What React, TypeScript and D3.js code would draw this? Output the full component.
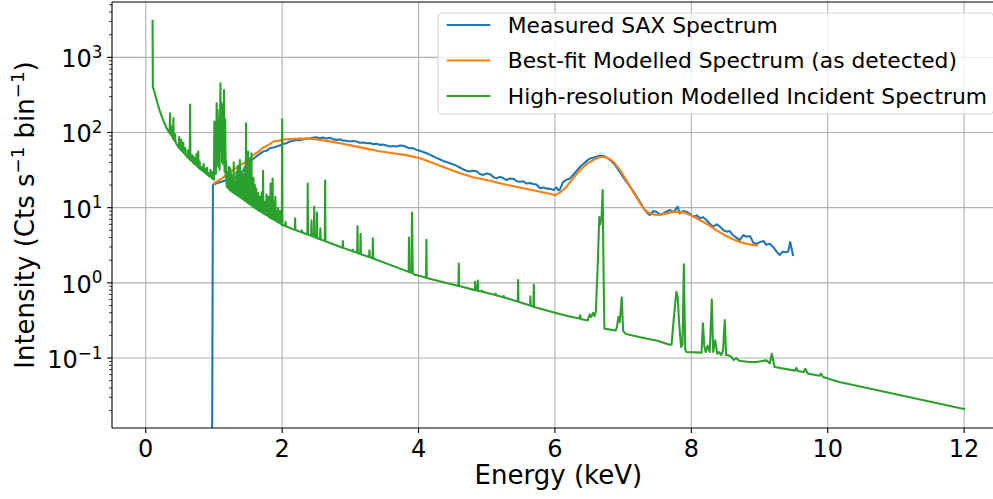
import React from 'react';
import * as d3 from 'd3';

// Measured SAX spectrum: [energy keV, counts s^-1 bin^-1]
const measuredSAX: [number, number][] = [
  [0.97, 0.001], [0.985, 20], [1.03, 21], [1.1, 22], [1.2, 23.5], [1.28, 24.5], [1.355, 25.9], [1.43, 31.6],
  [1.525, 41], [1.62, 48], [1.72, 55.8], [1.77, 57], [1.82, 61.8], [1.87, 63], [1.92, 65], [1.96, 67],
  [2.01, 70.6], [2.06, 72], [2.11, 75.9], [2.16, 77], [2.21, 79.8], [2.26, 79], [2.31, 81.5], [2.36, 83],
  [2.41, 83], [2.45, 85], [2.5, 86.7], [2.55, 84], [2.6, 85.5], [2.65, 83], [2.7, 85], [2.75, 81],
  [2.8, 79.8], [2.85, 81], [2.89, 78], [2.94, 77.5], [2.99, 75.9], [3.04, 77], [3.09, 75.9], [3.14, 73],
  [3.19, 73.6], [3.24, 72], [3.29, 72.5], [3.33, 70], [3.38, 70.6], [3.43, 68.5], [3.48, 69], [3.53, 67],
  [3.58, 65], [3.63, 66], [3.68, 65], [3.73, 67], [3.78, 66.5], [3.82, 64], [3.87, 61.8], [3.92, 62],
  [3.97, 58.7], [4.02, 57], [4.07, 55], [4.12, 53], [4.17, 50.4], [4.22, 48], [4.26, 46], [4.31, 44],
  [4.36, 41.9], [4.41, 40.5], [4.46, 39], [4.51, 37.5], [4.56, 36], [4.61, 34], [4.65, 32.5], [4.7, 31],
  [4.75, 30.2], [4.8, 31], [4.85, 30.5], [4.9, 28], [4.95, 27.3], [5.0, 28.5], [5.05, 27.8], [5.1, 25.5],
  [5.14, 24.5], [5.19, 25.7], [5.24, 24.8], [5.29, 23.3], [5.34, 24.5], [5.39, 24.3], [5.44, 22.5], [5.49, 22.1],
  [5.54, 22.4], [5.58, 21.0], [5.63, 21.3], [5.68, 20.6], [5.73, 20.3], [5.78, 18.1], [5.83, 18.6], [5.88, 17.9],
  [5.93, 17.8], [5.98, 17.2], [6.02, 18.6], [6.05, 17.0], [6.07, 17.2], [6.12, 22.1], [6.17, 23.5], [6.22, 24.5],
  [6.27, 27.5], [6.32, 31], [6.37, 35], [6.44, 40], [6.51, 45.2], [6.56, 46], [6.61, 47.6], [6.66, 49.5],
  [6.71, 48.6], [6.76, 46.5], [6.81, 43], [6.86, 39], [6.9, 35], [6.95, 30], [7.0, 25.7], [7.05, 22],
  [7.1, 19], [7.15, 16.5], [7.2, 14], [7.25, 11.8], [7.3, 9.8], [7.35, 8.6], [7.39, 8.0], [7.44, 9.0],
  [7.49, 8.85], [7.54, 8.0], [7.59, 8.4], [7.64, 8.9], [7.69, 9.3], [7.74, 8.7], [7.78, 9.8], [7.8, 10.3],
  [7.83, 8.4], [7.88, 9.0], [7.93, 8.85], [7.98, 8.2], [8.03, 7.6], [8.08, 7.9], [8.13, 7.2], [8.17, 7.5],
  [8.22, 6.85], [8.27, 6.1], [8.32, 5.6], [8.37, 6.0], [8.42, 5.6], [8.47, 5.0], [8.52, 4.8], [8.56, 4.9],
  [8.61, 4.3], [8.66, 4.0], [8.71, 3.7], [8.76, 4.3], [8.81, 4.1], [8.86, 4.2], [8.91, 3.4], [8.96, 3.3],
  [9.01, 3.5], [9.06, 3.6], [9.1, 3.2], [9.15, 3.3], [9.2, 3.0], [9.25, 2.6], [9.3, 2.35], [9.34, 2.6],
  [9.38, 2.55], [9.42, 2.6], [9.45, 3.5], [9.49, 2.35],
];

// Best-fit modelled spectrum (as detected)
const bestFitModel: [number, number][] = [
  [1.0, 21], [1.1, 24], [1.2, 28], [1.3, 32.5], [1.4, 37.5], [1.477, 41], [1.575, 50], [1.67, 57],
  [1.72, 63], [1.82, 70], [1.87, 75.9], [1.96, 78], [2.06, 81.5], [2.26, 83], [2.45, 82], [2.65, 77.4],
  [2.85, 72], [3.04, 66.4], [3.24, 61], [3.43, 56.3], [3.63, 53], [3.82, 50], [4.02, 45.5], [4.22, 39],
  [4.41, 33.4], [4.61, 28.7], [4.8, 25.4], [5.0, 23.4], [5.19, 21.1], [5.43, 19], [5.68, 17.1], [5.85, 15.8],
  [6.0, 14.7], [6.08, 16], [6.17, 19], [6.27, 25], [6.37, 31.6], [6.47, 38.5], [6.56, 43], [6.64, 46.5],
  [6.71, 47.5], [6.78, 45.5], [6.86, 40.7], [6.95, 32], [7.05, 23], [7.15, 16], [7.25, 11.4], [7.32, 9.3],
  [7.39, 8.4], [7.47, 8.05], [7.54, 8.0], [7.64, 8.4], [7.74, 8.85], [7.84, 8.8], [7.93, 8.4], [8.03, 7.6],
  [8.12, 6.86], [8.25, 5.9], [8.37, 5.0], [8.49, 4.3], [8.61, 3.8], [8.71, 3.5], [8.81, 3.3], [8.9, 3.18],
  [8.96, 3.13],
];

// High-resolution modelled incident spectrum
const highResIncident: [number, number][] = [
  [0.100, 3070], [0.104, 400], [0.12, 365], [0.15, 290], [0.2, 200], [0.25, 150], [0.3, 117],
  [0.35, 98], [0.356, 180], [0.362, 96], [0.375, 92], [0.38, 120], [0.385, 91],
  [0.4, 83], [0.405, 156], [0.41, 81], [0.425, 77], [0.43, 95], [0.435, 76],
  [0.45, 70], [0.485, 63], [0.49, 88], [0.495, 62], [0.5, 61], [0.515, 58.5], [0.52, 80], [0.525, 57.5],
  [0.545, 55], [0.55, 73], [0.555, 54], [0.575, 51], [0.58, 62], [0.585, 50.5],
  [0.6, 48], [0.615, 46.5], [0.62, 58], [0.625, 46], [0.645, 43.5], [0.65, 235], [0.655, 43],
  [0.675, 41.5], [0.68, 50], [0.685, 41], [0.695, 39.5], [0.7, 48], [0.705, 39],
  [0.725, 37.5], [0.73, 46], [0.735, 37], [0.74, 36.5], [0.745, 52], [0.75, 36],
  [0.765, 34.5], [0.77, 56], [0.775, 34], [0.785, 33.5], [0.79, 41], [0.795, 33],
  [0.8, 32.5], [0.82, 31.5], [0.825, 35], [0.83, 31], [0.845, 30.3], [0.85, 38], [0.855, 30],
  [0.87, 29], [0.875, 33], [0.88, 28.5], [0.895, 27.8], [0.9, 34], [0.905, 27.5],
  [0.93, 26.3], [0.935, 29], [0.94, 26], [0.945, 25.8], [0.95, 32], [0.955, 25.6],
  [0.965, 25], [0.97, 30], [0.975, 24.5], [1.0, 23.5], [1.006, 140], [1.012, 30], [1.02, 60], [1.028, 28], [1.04, 245], [1.046, 40],
  [1.055, 200], [1.062, 35], [1.075, 150], [1.082, 32], [1.095, 452], [1.102, 60], [1.11, 250], [1.118, 40], [1.128, 230], [1.135, 38],
  [1.148, 368], [1.155, 30], [1.165, 150], [1.172, 25], [1.18, 40], [1.186, 19],
  [1.195, 30], [1.2, 18.5], [1.21, 26], [1.215, 18], [1.22, 35], [1.225, 17.5],
  [1.235, 17], [1.24, 33.5], [1.245, 17], [1.25, 16.9], [1.255, 28], [1.26, 16.6], [1.265, 16.3], [1.27, 25], [1.275, 16.1],
  [1.285, 15.8], [1.29, 40], [1.295, 15.7], [1.305, 15.4], [1.31, 22], [1.315, 15.2],
  [1.325, 15], [1.33, 30], [1.335, 14.8], [1.345, 14.6], [1.35, 36], [1.355, 14.4], [1.36, 25], [1.365, 14.2],
  [1.375, 13.9], [1.38, 43], [1.385, 13.8], [1.39, 13.7], [1.395, 30], [1.4, 13.5], [1.415, 13.2], [1.42, 28], [1.425, 13],
  [1.435, 12.8], [1.44, 22], [1.445, 12.6], [1.45, 35], [1.455, 12.4],
  [1.465, 12.2], [1.47, 133], [1.475, 12.1], [1.495, 11.6], [1.5, 56], [1.505, 11.5], [1.525, 11.1], [1.53, 45], [1.535, 11],
  [1.545, 10.8], [1.55, 53], [1.555, 10.7], [1.575, 10.3], [1.58, 25], [1.585, 10.2],
  [1.595, 10], [1.6, 20], [1.605, 9.9], [1.615, 9.7], [1.62, 18], [1.625, 9.6],
  [1.645, 9.3], [1.65, 15.6], [1.655, 9.2], [1.675, 9], [1.68, 14], [1.685, 8.9], [1.695, 8.8], [1.7, 16], [1.705, 8.7],
  [1.715, 8.5], [1.72, 31], [1.725, 8.4], [1.745, 8.2], [1.75, 12], [1.755, 8.1], [1.765, 8.0], [1.77, 15], [1.775, 7.9],
  [1.795, 7.7], [1.8, 14], [1.805, 7.6], [1.825, 7.3], [1.83, 21], [1.835, 7.25], [1.855, 7.1], [1.86, 24.5], [1.865, 7.0],
  [1.875, 6.95], [1.88, 12], [1.885, 6.9], [1.895, 6.8], [1.9, 14], [1.905, 6.75],
  [1.915, 6.6], [1.92, 9], [1.925, 6.5], [1.935, 6.45], [1.94, 10], [1.945, 6.4], [1.965, 6.2], [1.97, 9], [1.975, 6.15],
  [1.995, 5.92], [2.0, 150], [2.005, 5.88],
  [2.045, 5.7], [2.05, 6.5], [2.055, 5.67], [2.185, 5.07], [2.19, 7.2], [2.195, 5.05], [2.285, 4.7], [2.29, 5.0], [2.295, 4.68],
  [2.37, 4.4], [2.375, 21], [2.38, 4.4], [2.425, 4.22], [2.43, 6.8], [2.435, 4.2], [2.465, 4.1], [2.47, 10.3], [2.475, 4.07],
  [2.505, 3.95], [2.51, 8.6], [2.515, 3.93], [2.555, 3.8], [2.56, 5.3], [2.565, 3.78], [2.625, 3.6], [2.63, 23], [2.635, 3.58],
  [2.885, 2.93], [2.89, 3.6], [2.895, 2.92], [3.035, 2.63], [3.04, 2.75], [3.045, 2.62], [3.1, 2.52], [3.105, 5.7], [3.11, 2.5],
  [3.145, 2.42], [3.15, 4.5], [3.155, 2.4], [3.275, 2.2], [3.28, 2.7], [3.285, 2.19], [3.325, 2.12], [3.33, 3.9], [3.335, 2.11],
  [3.855, 1.4], [3.86, 4.0], [3.865, 1.39], [3.895, 1.36], [3.905, 8.6], [3.915, 1.34], [3.94, 1.28], [4.0, 1.25],
  [4.11, 1.17], [4.115, 3.75], [4.12, 1.16], [4.585, 0.91], [4.59, 1.8], [4.595, 0.905], [4.825, 0.8], [4.83, 1.03], [4.84, 0.795],
  [4.865, 0.785], [4.87, 1.07], [4.875, 0.78], [4.925, 0.765], [4.93, 0.79], [4.935, 0.76],
  [5.125, 0.69], [5.13, 0.72], [5.135, 0.685], [5.245, 0.645], [5.25, 0.67], [5.255, 0.64], [5.455, 0.565], [5.46, 1.09], [5.465, 0.56],
  [5.635, 0.5], [5.64, 0.66], [5.645, 0.497], [5.685, 0.48], [5.69, 0.95], [5.695, 0.477],
  [6.0, 0.4], [6.2, 0.36], [6.36, 0.335], [6.37, 0.37], [6.38, 0.33], [6.48, 0.315], [6.51, 0.38], [6.53, 0.35], [6.56, 0.4],
  [6.58, 0.36], [6.6, 0.42], [6.63, 2.0], [6.65, 7.5], [6.665, 6.0], [6.685, 7.8], [6.7, 17.2], [6.715, 1.0], [6.725, 0.246],
  [6.89, 0.232], [6.91, 0.26], [6.93, 0.35], [6.95, 0.3], [6.98, 0.64], [7.0, 0.23], [7.03, 0.212], [7.06, 0.207],
  [7.3, 0.185], [7.5, 0.17], [7.66, 0.152], [7.71, 0.15], [7.74, 0.32], [7.78, 0.76], [7.8, 0.65], [7.82, 0.3], [7.85, 0.14],
  [7.87, 0.15], [7.89, 1.77], [7.91, 0.129], [7.93, 0.12], [8.15, 0.118], [8.17, 0.29], [8.19, 0.146], [8.21, 0.12],
  [8.24, 0.146], [8.27, 0.12], [8.3, 0.605], [8.32, 0.12], [8.35, 0.172], [8.38, 0.114], [8.41, 0.12], [8.44, 0.109],
  [8.465, 0.127], [8.49, 0.32], [8.51, 0.109], [8.54, 0.109], [8.59, 0.103], [8.62, 0.094], [8.66, 0.1], [8.7, 0.092],
  [8.85, 0.0885], [8.95, 0.0885], [9.1, 0.093], [9.15, 0.085], [9.18, 0.114], [9.22, 0.076], [9.52, 0.068], [9.54, 0.074],
  [9.56, 0.067], [9.65, 0.065], [9.67, 0.072], [9.71, 0.062], [9.88, 0.058], [9.9, 0.062], [9.93, 0.056], [10.17, 0.048],
  [12.0, 0.021],
];

const xTicks = [0, 2, 4, 6, 8, 10, 12];
const yTickExponents = [-1, 0, 1, 2, 3];
const legendLabels = [
  'Measured SAX Spectrum',
  'Best-fit Modelled Spectrum (as detected)',
  'High-resolution Modelled Incident Spectrum',
];
const seriesColors = ['#1f77b4', '#ff7f0e', '#2ca02c'];

const FONT = 'DejaVu Sans, Verdana, sans-serif';

export default function App() {
  const W = 993;
  const H = 499;
  const left = 112;
  const right = 1004.7;
  const top = 2;
  const bottom = 428;

  const x = d3.scaleLinear().domain([-0.495, 12.595]).range([left, right]);
  const y = d3.scaleLog().domain([Math.pow(10, -1.931), Math.pow(10, 3.736)]).range([bottom, top]);
  const line = d3
    .line<[number, number]>()
    .x((d) => x(d[0]))
    .y((d) => y(d[1]));

  const [yMin, yMax] = y.domain();
  const minorTicks: number[] = [];
  for (let e = -2; e <= 3; e++) {
    for (let k = 2; k <= 9; k++) {
      const v = k * Math.pow(10, e);
      if (v >= yMin && v <= yMax) minorTicks.push(v);
    }
  }

  const series = [measuredSAX, bestFitModel, highResIncident];
  const tickFont = 24;
  const supFont = 16.8;

  const legFont = 21.8;
  const legX = 438;
  const legY = 13;
  const legW = right - 11 - legX;
  const legH = 101;
  const rowY = [25, 60.5, 96];
  const pad = 0.4 * legFont;
  const handleLen = 2 * legFont;
  const handleGap = 0.8 * legFont;

  return (
    <div style={{ position: 'fixed', left: 0, top: 0, width: W, height: H, background: '#fff' }}>
      <svg width={W} height={H} viewBox={`0 0 ${W} ${H}`} style={{ display: 'block' }} fontFamily={FONT}>
        <defs>
          <clipPath id="plotClip">
            <rect x={left} y={top} width={right - left} height={bottom - top} />
          </clipPath>
        </defs>
        <rect x={0} y={0} width={W} height={H} fill="#fff" />
        {/* grid */}
        <g stroke="#b0b0b0" strokeWidth={1.1}>
          {xTicks.map((t) => (
            <line key={'gx' + t} x1={x(t)} x2={x(t)} y1={top} y2={bottom} />
          ))}
          {yTickExponents.map((e) => (
            <line key={'gy' + e} x1={left} x2={right} y1={y(Math.pow(10, e))} y2={y(Math.pow(10, e))} />
          ))}
        </g>
        {/* series */}
        <g clipPath="url(#plotClip)" fill="none" strokeWidth={2.08} strokeLinejoin="round" strokeLinecap="square">
          {series.map((s, i) => (
            <path key={'s' + i} d={line(s) || ''} stroke={seriesColors[i]} />
          ))}
        </g>
        {/* spines */}
        <g stroke="#000" strokeWidth={1.1} fill="none">
          <line x1={left} x2={left} y1={top} y2={bottom} />
          <line x1={left} x2={right} y1={bottom} y2={bottom} />
          <line x1={left} x2={right} y1={top} y2={top} />
          <line x1={right} x2={right} y1={top} y2={bottom} />
        </g>
        {/* x ticks */}
        <g>
          {xTicks.map((t) => (
            <g key={'xt' + t}>
              <line x1={x(t)} x2={x(t)} y1={bottom} y2={bottom + 4.9} stroke="#000" strokeWidth={1.1} />
              <text x={x(t)} y={bottom + 28.5} textAnchor="middle" fontSize={tickFont} fill="#000">
                {t}
              </text>
            </g>
          ))}
        </g>
        {/* y ticks */}
        <g>
          {minorTicks.map((v, i) => (
            <line key={'ym' + i} x1={left - 2.8} x2={left} y1={y(v)} y2={y(v)} stroke="#000" strokeWidth={0.83} />
          ))}
          {yTickExponents.map((e) => {
            const yy = y(Math.pow(10, e));
            return (
              <g key={'yt' + e}>
                <line x1={left - 4.9} x2={left} y1={yy} y2={yy} stroke="#000" strokeWidth={1.1} />
                <text x={left - 9.5} y={yy + 10} textAnchor="end" fontSize={tickFont} fill="#000">
                  <tspan>10</tspan>
                  <tspan dy={-9.5} fontSize={supFont}>
                    {e < 0 ? '\u2212' + Math.abs(e) : String(e)}
                  </tspan>
                </text>
              </g>
            );
          })}
        </g>
        {/* axis labels */}
        <text x={(left + right) / 2} y={484} textAnchor="middle" fontSize={26} fill="#000">
          Energy (keV)
        </text>
        <text transform={`translate(34, ${(top + bottom) / 2}) rotate(-90)`} textAnchor="middle" fontSize={26} fill="#000">
          <tspan>Intensity (Cts s</tspan>
          <tspan dy={-10.5} fontSize={18.2}>{'\u22121'}</tspan>
          <tspan dy={10.5}> bin</tspan>
          <tspan dy={-10.5} fontSize={18.2}>{'\u22121'}</tspan>
          <tspan dy={10.5}>)</tspan>
        </text>
        {/* legend */}
        <g>
          <rect
            x={legX}
            y={legY}
            width={legW}
            height={legH}
            rx={4.3}
            ry={4.3}
            fill="#fff"
            fillOpacity={0.8}
            stroke="#cccccc"
            strokeOpacity={0.8}
            strokeWidth={1.1}
          />
          {legendLabels.map((lab, i) => (
            <g key={'lg' + i}>
              <line
                x1={legX + pad}
                x2={legX + pad + handleLen}
                y1={rowY[i]}
                y2={rowY[i]}
                stroke={seriesColors[i]}
                strokeWidth={2.08}
              />
              <text x={legX + pad + handleLen + handleGap} y={rowY[i] + 7.8} fontSize={legFont} fill="#000">
                {lab}
              </text>
            </g>
          ))}
        </g>
      </svg>
    </div>
  );
}
